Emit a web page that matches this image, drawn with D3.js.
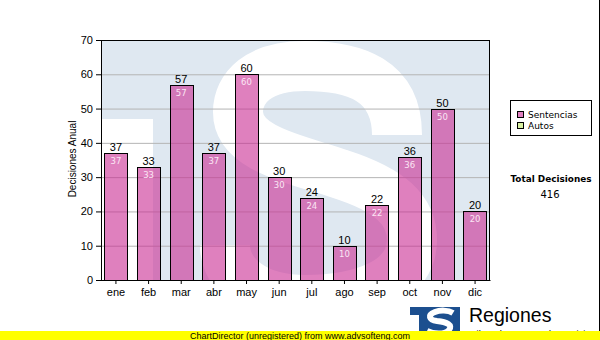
<!DOCTYPE html>
<html>
<head>
<meta charset="utf-8">
<script src="https://cdn.jsdelivr.net/npm/d3@7"></script>
<style>
    body { margin: 0; background: #fff; }
    svg { display: block; }
</style>
</head>
<body>
<div id="wrapper"></div>
<script>
const months = ["ene", "feb", "mar", "abr", "may", "jun", "jul", "ago", "sep", "oct", "nov", "dic"];
const sentencias = [37, 33, 57, 37, 60, 30, 24, 10, 22, 36, 50, 20];
const yTicks = [0, 10, 20, 30, 40, 50, 60, 70];
const legendLabels = ["Sentencias", "Autos"];
const legendColors = ["#e07fc0", "#d8f0a2"];
const yTitle = "Decisiones Anual";
const totalTitle = "Total Decisiones";

function buildPlot() {
    var dimension = {
        width: 600,
        height: 340,
        margin: { top: 40, left: 101, bottom: 60, right: 110 }
    };
    dimension.boundedWidth = dimension.width - dimension.margin.left - dimension.margin.right;
    dimension.boundedHeight = dimension.height - dimension.margin.top - dimension.margin.bottom;

    const svg = d3.select("#wrapper").append("svg")
        .attr("width", dimension.width)
        .attr("height", dimension.height);

    const xScaler = d3.scaleBand()
        .domain(months)
        .range([0, dimension.boundedWidth])
        .paddingInner(0.285)
        .paddingOuter(0.1);

    const yScaler = d3.scaleLinear()
        .domain([0, 70])
        .range([dimension.boundedHeight, 0]);

    svg.append("clipPath").attr("id", "plotclip")
        .append("rect")
        .attr("width", dimension.boundedWidth)
        .attr("height", dimension.boundedHeight);

    const bounded = svg.append("g")
        .attr("transform", `translate(${dimension.margin.left}, ${dimension.margin.top})`);

    // watermark (logo behind plot)
    const wm = bounded.append("g").attr("clip-path", "url(#plotclip)");
    wm.append("rect")
        .attr("width", dimension.boundedWidth)
        .attr("height", dimension.boundedHeight)
        .attr("fill", "#dfe8f1");
    wm.append("rect")
        .attr("x", 0).attr("y", 79)
        .attr("width", 52).attr("height", dimension.boundedHeight)
        .attr("fill", "#fff");
    wm.append("path")
        .attr("transform", "translate(-101, -40)")
        .attr("d", "M 397,135 C 397,80 355,66 305,66 C 258,66 238,88 238,112 C 238,150 300,160 340,174 C 390,190 412,210 412,240 C 412,282 362,300 305,300 C 255,300 225,275 225,245")
        .attr("fill", "none")
        .attr("stroke", "#fff")
        .attr("stroke-width", 50);

    // gridlines
    bounded.append("g")
        .selectAll("line")
        .data(yTicks.filter(d => d > 0 && d < 70))
        .join("line")
        .attr("x1", 0).attr("x2", dimension.boundedWidth)
        .attr("y1", d => yScaler(d) + 0.5).attr("y2", d => yScaler(d) + 0.5)
        .attr("stroke", "#b4b4b4");

    // bars
    bounded.append("g")
        .selectAll("rect")
        .data(sentencias)
        .join("rect")
        .attr("x", (d, i) => Math.round(xScaler(months[i])) + 0.5)
        .attr("y", d => Math.round(yScaler(d)) + 0.5)
        .attr("width", Math.round(xScaler.bandwidth()))
        .attr("height", d => Math.round(yScaler(0)) - Math.round(yScaler(d)))
        .attr("fill", "rgba(201,43,147,0.6)")
        .attr("stroke", "#000");

    // value labels above
    bounded.append("g")
        .selectAll("text")
        .data(sentencias)
        .join("text")
        .attr("x", (d, i) => xScaler(months[i]) + xScaler.bandwidth() / 2)
        .attr("y", d => yScaler(d) - 2)
        .attr("text-anchor", "middle")
        .attr("font-family", "Liberation Sans, Arial")
        .attr("font-size", 11)
        .attr("fill", "#000")
        .text(d => d);

    // value labels inside
    bounded.append("g")
        .selectAll("text")
        .data(sentencias)
        .join("text")
        .attr("x", (d, i) => xScaler(months[i]) + xScaler.bandwidth() / 2)
        .attr("y", d => yScaler(d) + 11)
        .attr("text-anchor", "middle")
        .attr("font-family", "DejaVu Sans")
        .attr("font-size", 8.5)
        .attr("fill", "#fbe6f4")
        .text(d => d);

    // frame
    bounded.append("rect")
        .attr("x", 0.5).attr("y", 0.5)
        .attr("width", dimension.boundedWidth - 1)
        .attr("height", dimension.boundedHeight)
        .attr("fill", "none")
        .attr("stroke", "#000");

    var x_axis = d3.axisBottom(xScaler).tickSize(4).tickPadding(4).tickSizeOuter(0);
    var y_axis = d3.axisLeft(yScaler).tickValues(yTicks).tickSize(5).tickPadding(3).tickSizeOuter(0);

    const gx = bounded.append("g")
        .attr("transform", `translate(0, ${dimension.boundedHeight})`)
        .call(x_axis);
    const gy = bounded.append("g")
        .call(y_axis);
    [gx, gy].forEach(g => {
        g.selectAll("text")
            .attr("font-family", "Liberation Sans, Arial")
            .attr("font-size", 11)
            .attr("fill", "#000");
        g.selectAll("line").attr("stroke", "#000");
        g.select(".domain").attr("stroke", "#000");
    });

    svg.append("text")
        .attr("transform", "translate(76, 159) rotate(-90)")
        .attr("text-anchor", "middle")
        .attr("font-family", "Liberation Sans, Arial")
        .attr("font-size", 10)
        .attr("fill", "#000")
        .text(yTitle);

    // legend
    const legend = svg.append("g").attr("transform", "translate(510, 100)");
    legend.append("rect")
        .attr("x", 0.5).attr("y", 0.5)
        .attr("width", 81).attr("height", 35)
        .attr("fill", "#fff")
        .attr("stroke", "#000");
    const items = legend.selectAll("g.item")
        .data(legendLabels)
        .join("g")
        .attr("class", "item")
        .attr("transform", (d, i) => `translate(7, ${11 + i * 11})`);
    items.append("rect")
        .attr("x", 0.5).attr("y", 0.5)
        .attr("width", 6).attr("height", 6)
        .attr("fill", (d, i) => legendColors[i])
        .attr("stroke", "#000");
    items.append("text")
        .attr("x", 11).attr("y", 6.5)
        .attr("font-family", "DejaVu Sans")
        .attr("font-size", 9)
        .attr("fill", "#000")
        .text(d => d);

    // total
    svg.append("text")
        .attr("x", 551).attr("y", 182)
        .attr("text-anchor", "middle")
        .attr("font-family", "DejaVu Sans")
        .attr("font-weight", "bold")
        .attr("font-size", 9)
        .attr("textLength", 81)
        .attr("lengthAdjust", "spacingAndGlyphs")
        .attr("fill", "#000")
        .text(totalTitle);
    svg.append("text")
        .attr("x", 550).attr("y", 198)
        .attr("text-anchor", "middle")
        .attr("font-family", "DejaVu Sans")
        .attr("font-size", 10)
        .attr("fill", "#000")
        .text(d3.sum(sentencias));

    // right edge line
    svg.append("line")
        .attr("x1", 599.5).attr("x2", 599.5)
        .attr("y1", 0).attr("y2", 331)
        .attr("stroke", "#000");

    // footer logo
    const logo = svg.append("g");
    logo.append("rect")
        .attr("x", 410).attr("y", 307)
        .attr("width", 50).attr("height", 25)
        .attr("fill", "#1c4f8f");
    logo.append("rect")
        .attr("x", 410).attr("y", 315)
        .attr("width", 9).attr("height", 17)
        .attr("fill", "#fff");
    logo.append("path")
        .attr("d", "M 453,313 C 448,310 440,310 435,312 C 427,315 429,320 437,321 C 447,322 453,325 449,330 C 445,335 433,334 427,331")
        .attr("fill", "none")
        .attr("stroke", "#fff")
        .attr("stroke-width", 6);
    svg.append("text")
        .attr("x", 469).attr("y", 322)
        .attr("font-family", "Liberation Sans, Arial")
        .attr("font-size", 19.5)
        .attr("fill", "#000")
        .text("Regiones");
    svg.append("text")
        .attr("x", 468).attr("y", 337)
        .attr("font-family", "Liberation Sans, Arial")
        .attr("font-size", 9.5)
        .attr("fill", "#000")
        .text("Tribunal Supremo de Justicia");

    // footer bar
    svg.append("rect")
        .attr("x", 0).attr("y", 331)
        .attr("width", 600).attr("height", 9)
        .attr("fill", "#ffff00");
    svg.append("text")
        .attr("x", 300).attr("y", 338.5)
        .attr("text-anchor", "middle")
        .attr("font-family", "Liberation Sans, Arial")
        .attr("font-size", 9)
        .attr("fill", "#000")
        .text("ChartDirector (unregistered) from www.advsofteng.com");
}

buildPlot();
</script>
</body>
</html>
